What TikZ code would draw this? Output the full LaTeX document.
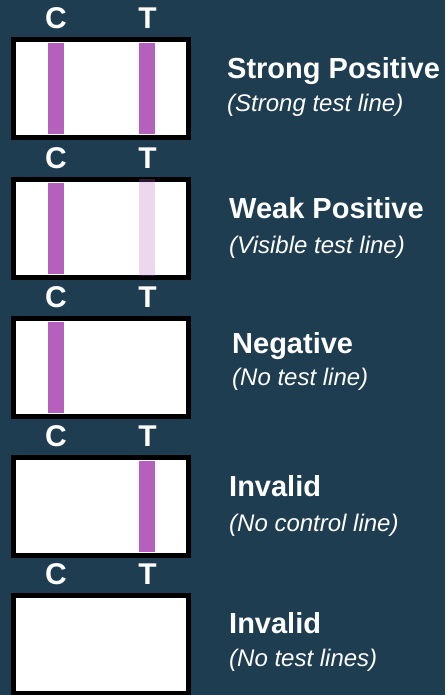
\documentclass[tikz,border=0pt]{standalone}
\usepackage{fontspec}
\setmainfont{Liberation Sans}
\definecolor{navy}{HTML}{1E3D51}
\definecolor{mypurple}{HTML}{B560BD}

\begin{document}
\begin{tikzpicture}[x=1pt, y=-1pt,
  strip/.style = {black, line width=5pt, fill=white},
  band/.style = {fill=mypurple},
  faint/.style = {fill=mypurple, fill opacity=.25},
  letter/.style = {white, inner sep=0, font=\fontsize{30}{30}\selectfont\bfseries},
  heading/.style = {white, anchor=base west, inner sep=0, font=\fontsize{29}{31}\selectfont\bfseries},
  remark/.style = {white, anchor=base west, inner sep=0, font=\fontsize{24}{26}\selectfont\itshape}]

\fill [navy] (0,0) rectangle (445,695);
\useasboundingbox (0,0) rectangle (445,695);

%%%%%%%%%%%%%%% 1 %%%%%%%%%%%%%%%%
\begin{scope}[shift = {(11,37)}]
\draw [strip] (2.5,2.5) rectangle (177.5,100.5);
\fill [band] (37,6) rectangle (53,97);
\fill [band] (128,6) rectangle (144,97);
\node [letter] (c1) at (45,-19) {C};
\node [letter] (t1) at (136.5,-19) {T};
\node [heading] (h1) at (216,42) {Strong Positive};
\node [remark] (r1) at (216,75) {(Strong test line)};
\end{scope}

%%%%%%%%%%%%%%% 2 %%%%%%%%%%%%%%%%
\begin{scope}[shift = {(11,177)}]
\draw [strip] (2.5,2.5) rectangle (177.5,100.5);
\fill [band] (37,6) rectangle (53,97);
\fill [faint] (128,2) rectangle (144,99);
\node [letter] (c2) at (45,-19) {C};
\node [letter] (t2) at (136.5,-19) {T};
\node [heading] (h2) at (218,41) {Weak Positive};
\node [remark] (r2) at (218,76) {(Visible test line)};
\end{scope}

%%%%%%%%%%%%%%% 3 %%%%%%%%%%%%%%%%
\begin{scope}[shift = {(11,316)}]
\draw [strip] (2.5,2.5) rectangle (177.5,100.5);
\fill [band] (37,6) rectangle (53,97);
\node [letter] (c3) at (45,-19) {C};
\node [letter] (t3) at (136.5,-19) {T};
\node [heading] (h3) at (221,37) {Negative};
\node [remark] (r3) at (221,69) {(No test line)};
\end{scope}

%%%%%%%%%%%%%%% 4 %%%%%%%%%%%%%%%%
\begin{scope}[shift = {(11,455)}]
\draw [strip] (2.5,2.5) rectangle (177.5,100.5);
\fill [band] (128,6) rectangle (144,97);
\node [letter] (c4) at (45,-19) {C};
\node [letter] (t4) at (136.5,-19) {T};
\node [heading] (h4) at (218,41) {Invalid};
\node [remark] (r4) at (218,76) {(No control line)};
\end{scope}

%%%%%%%%%%%%%%% 5 %%%%%%%%%%%%%%%%
\begin{scope}[shift = {(11,593)}]
\draw [strip] (2.5,2.5) rectangle (177.5,100.5);
\node [letter] (c5) at (45,-19) {C};
\node [letter] (t5) at (136.5,-19) {T};
\node [heading] (h5) at (218,40) {Invalid};
\node [remark] (r5) at (218,73) {(No test lines)};
\end{scope}

\end{tikzpicture}
\end{document}
